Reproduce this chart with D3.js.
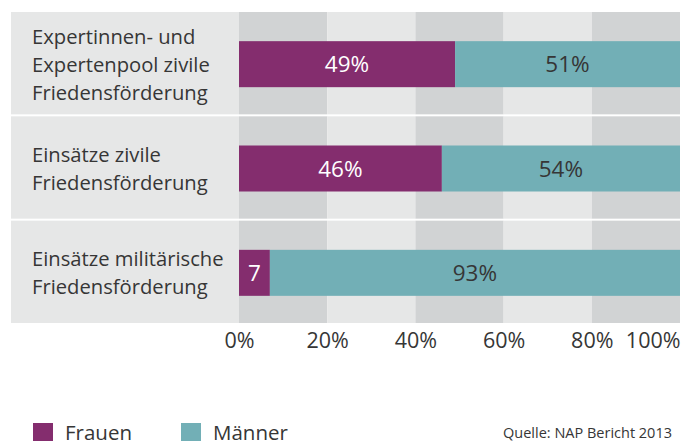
<!DOCTYPE html>
<html>
<head>
<meta charset="utf-8">
<script src="https://cdn.jsdelivr.net/npm/d3@7"></script>
<style>
  body { margin: 0; background: #fff; }
  svg { display: block; font-family: 'Open Sans', sans-serif; }
</style>
</head>
<body>
<div id="chart"></div>
<script>
// data
const categories = [
  ['Expertinnen- und', 'Expertenpool zivile', 'Friedensförderung'],
  ['Einsätze zivile', 'Friedensförderung'],
  ['Einsätze militärische', 'Friedensförderung']
];
const frauen = [49, 46, 7];
const maenner = [51, 54, 93];
const frauenLabels = ['49%', '46%', '7'];
const maennerLabels = ['51%', '54%', '93%'];
const ticks = [0, 20, 40, 60, 80, 100];
const seriesNames = ['Frauen', 'Männer'];
const source = 'Quelle: NAP Bericht 2013';

const width = 684, height = 441;
const colors = { frauen: '#842d6e', maenner: '#72afb6' };
const light = '#e6e7e7', dark = '#d1d3d4', textColor = '#363636';

const svg = d3.select('#chart').append('svg')
  .attr('width', width)
  .attr('height', height);

let x = d3.scaleLinear().domain([0, 100]).range([239, 680]);
let y = d3.scaleBand()
  .domain(d3.range(categories.length))
  .range([12, 323])
  .paddingInner(0.019);

const barH = 46;

// row backgrounds
const rows = svg.append('g').selectAll('g')
  .data(categories)
  .join('g')
  .attr('transform', (d, i) => `translate(0,${y(i)})`);

rows.append('rect')
  .attr('x', 11)
  .attr('width', x(0) - 11)
  .attr('height', y.bandwidth())
  .attr('fill', light);

rows.selectAll('rect.band')
  .data(d3.pairs(ticks))
  .join('rect')
  .attr('class', 'band')
  .attr('x', d => x(d[0]))
  .attr('width', d => x(d[1]) - x(d[0]))
  .attr('height', y.bandwidth())
  .attr('fill', (d, i) => i % 2 === 0 ? dark : light);

// category labels
rows.append('text')
  .attr('fill', textColor)
  .attr('font-size', 20.2)
  .selectAll('tspan')
  .data(d => d)
  .join('tspan')
  .attr('x', 32)
  .attr('y', (d, i, nodes) => {
    const n = nodes.length;
    return y.bandwidth() / 2 + (i - (n - 1) / 2) * 28 + 8.5;
  })
  .text(d => d);

// bars
const barY = i => y(i) + y.bandwidth() / 2 - barH / 2 + 1;

svg.append('g').selectAll('rect')
  .data(frauen)
  .join('rect')
  .attr('x', x(0))
  .attr('y', (d, i) => barY(i))
  .attr('width', d => x(d) - x(0))
  .attr('height', barH)
  .attr('fill', colors.frauen);

svg.append('g').selectAll('rect')
  .data(maenner)
  .join('rect')
  .attr('x', (d, i) => x(frauen[i]))
  .attr('y', (d, i) => barY(i))
  .attr('width', (d, i) => x(frauen[i] + d) - x(frauen[i]))
  .attr('height', barH)
  .attr('fill', colors.maenner);

// value labels
svg.append('g').selectAll('text')
  .data(frauen)
  .join('text')
  .attr('x', d => (x(0) + x(d)) / 2)
  .attr('y', (d, i) => barY(i) + barH / 2 + 8)
  .attr('text-anchor', 'middle')
  .attr('font-size', 22.5)
  .attr('fill', '#fff')
  .text((d, i) => frauenLabels[i]);

svg.append('g').selectAll('text')
  .data(maenner)
  .join('text')
  .attr('x', (d, i) => (x(frauen[i]) + x(frauen[i] + d)) / 2)
  .attr('y', (d, i) => barY(i) + barH / 2 + 8)
  .attr('text-anchor', 'middle')
  .attr('font-size', 22.5)
  .attr('fill', textColor)
  .text((d, i) => maennerLabels[i]);

// x axis
const xAxis = svg.append('g')
  .attr('transform', 'translate(0,323)')
  .call(d3.axisBottom(x).tickValues(ticks).tickSize(0).tickPadding(0).tickFormat(d => d + '%'));
xAxis.select('.domain').remove();
xAxis.selectAll('text')
  .attr('dy', null)
  .attr('y', 25)
  .attr('font-size', 21.5)
  .attr('font-family', 'Open Sans, sans-serif')
  .attr('fill', textColor)
  .filter(d => d === 100)
  .attr('text-anchor', 'end');

// legend
const legend = svg.append('g').selectAll('g')
  .data(seriesNames)
  .join('g')
  .attr('transform', (d, i) => `translate(${33 + i * 148},423)`);
legend.append('rect')
  .attr('width', 20)
  .attr('height', 20)
  .attr('fill', (d, i) => i === 0 ? colors.frauen : colors.maenner);
legend.append('text')
  .attr('x', 32)
  .attr('y', 16.5)
  .attr('font-size', 20.5)
  .attr('fill', textColor)
  .text(d => d);

svg.append('text')
  .attr('x', 672)
  .attr('y', 438)
  .attr('text-anchor', 'end')
  .attr('font-size', 14.5)
  .attr('fill', textColor)
  .text(source);
</script>
</body>
</html>
